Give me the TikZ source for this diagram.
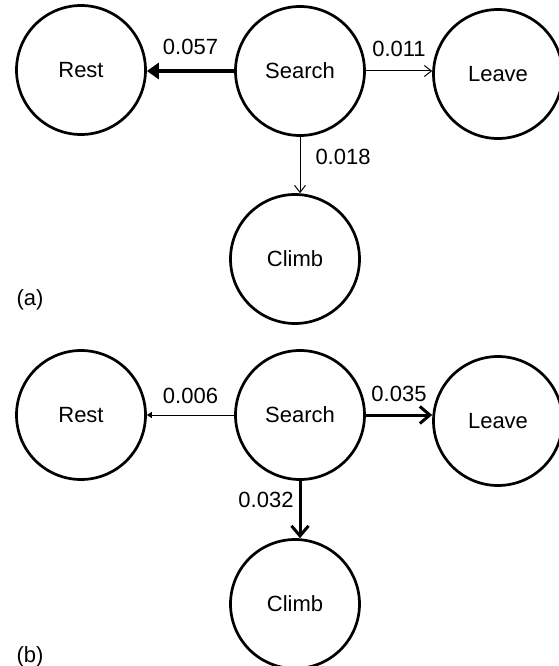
\documentclass[tikz,border=0pt]{standalone}
\usepackage{fontspec}
\setmainfont{Liberation Sans}
\usetikzlibrary{arrows.meta}
\tikzset{
  state/.style={draw, circle, line width=2.7pt, minimum size=129pt, inner sep=0pt},
  weak/.style={line width=1pt, -{Straight Barb[length=7pt,width=11pt]}},
  tiny/.style={line width=1pt, -{Triangle[length=5pt,width=6pt]}},
  strong/.style={line width=3pt, -{Straight Barb[length=10pt,width=17pt]}},
  heavy/.style={line width=4.5pt, -{Triangle[length=12pt,width=16pt]}},
  rate/.style={inner sep=0pt}
}
\begin{document}
\begin{tikzpicture}[x=1pt,y=-1pt,font=\fontsize{22}{26}\selectfont]
    \useasboundingbox (0,0) rectangle (558,666);
    % (a)
    \node[state] (ra) at (81,70) {Rest};
    \node[state] (sa) at (300,71) {Search};
    \node[state] (la) at (498,74) {Leave};
    \node[state] (ca) at (295,259) {Climb};
    \draw[heavy] (sa.west) -- (sa.west -| ra.east) node[rate, midway, above=14pt] {0.057};
    \draw[weak] (sa.east) -- (sa.east -| la.west) node[rate, midway, above=14pt] {0.011};
    \draw[weak] (sa.south) -- (sa.south |- ca.north) node[rate, pos=0.36, right=15pt] {0.018};
    \node (pa) at (30,300) {(a)};
    % (b)
    \node[state] (rb) at (81,415) {Rest};
    \node[state] (sb) at (300,415) {Search};
    \node[state] (lb) at (498,421) {Leave};
    \node[state] (cb) at (295,604) {Climb};
    \draw[tiny] (sb.west) -- (sb.west -| rb.east) node[rate, midway, above=11pt] {0.006};
    \draw[strong] (sb.east) -- (sb.east -| lb.west) node[rate, midway, above=12pt] {0.035};
    \draw[strong] (sb.south) -- (sb.south |- cb.north) node[rate, pos=0.34, left=5pt] {0.032};
    \node (pb) at (30,657) {(b)};
\end{tikzpicture}
\end{document}
